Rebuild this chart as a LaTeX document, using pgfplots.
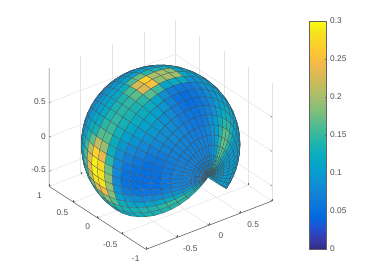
\documentclass[border=0pt]{standalone}
\usepackage{fontspec}
\setmainfont{Liberation Sans}
\usepackage{pgfplots}
\usepackage{pgfplotstable}
\pgfplotsset{compat=1.18}
\definecolor{axgray}{rgb}{0.38,0.38,0.38}
\definecolor{txtgray}{rgb}{0.3,0.3,0.3}
\pgfplotsset{colormap={parula}{rgb=(0.2081,0.1663,0.5292) rgb=(0.2081,0.2386,0.6771) rgb=(0.1253,0.3242,0.8303) rgb=(0.0060,0.4086,0.8828) rgb=(0.0498,0.4586,0.8641) rgb=(0.0779,0.5040,0.8384) rgb=(0.0641,0.5570,0.8240) rgb=(0.0265,0.6137,0.8135) rgb=(0.0228,0.6534,0.7768) rgb=(0.0590,0.6838,0.7254) rgb=(0.1453,0.7098,0.6646) rgb=(0.2586,0.7317,0.5954) rgb=(0.3953,0.7459,0.5244) rgb=(0.5300,0.7491,0.4661) rgb=(0.6473,0.7456,0.4188) rgb=(0.7525,0.7384,0.3768) rgb=(0.8507,0.7299,0.3360) rgb=(0.9450,0.7261,0.2886) rgb=(0.9990,0.7653,0.2164) rgb=(0.9789,0.8271,0.1633) rgb=(0.9589,0.8949,0.1132) rgb=(0.9763,0.9831,0.0538)}}
\pgfplotstableread{
x y z c
0 -1 0 .09
0 -1 0 .09
0 -1 0 .09
0 -1 0 .09
0 -1 0 .09
0 -1 0 .09
0 -1 0 .09
0 -1 0 .09
0 -1 0 .09
0 -1 0 .09
0 -1 0 .09
0 -1 0 .09
0 -1 0 .09
0 -1 0 .09
0 -1 0 .09
0 -1 0 .09
0 -1 0 .09
0 -1 0 .09
0 -1 0 .09
0 -1 0 .09
0 -1 0 .09
0 -1 0 .09
0 -1 0 .09
0 -1 0 .09
0 -1 0 .09
0 -1 0 .09
0 -1 0 .09
0 -1 0 .09
0 -1 0 .09
0 -1 0 .09
0 -1 0 .09
0 -1 0 .09
0 -1 0 .09
0 -1 0 .09
0 -1 0 .09
0 -1 0 .09
0 -1 0 .09
.037 -.999 -.037 .10
.041 -.999 -.032 .10
.045 -.999 -.026 .10
.048 -.999 -.020 .10
.050 -.999 -.013 .10
.052 -.999 -.007 .10
.052 -.999 0 .10
.052 -.999 .007 .10
.050 -.999 .013 .10
.048 -.999 .020 .10
.045 -.999 .026 .10
.041 -.999 .032 .11
.037 -.999 .037 .13
.032 -.999 .041 .12
.026 -.999 .045 .10
.020 -.999 .048 .09
.013 -.999 .050 .09
.007 -.999 .052 .08
0 -.999 .052 .08
-.007 -.999 .052 .08
-.013 -.999 .050 .08
-.020 -.999 .048 .08
-.026 -.999 .045 .08
-.032 -.999 .041 .08
-.037 -.999 .037 .08
-.041 -.999 .032 .08
-.045 -.999 .026 .08
-.048 -.999 .020 .08
-.050 -.999 .013 .08
-.052 -.999 .007 .08
-.052 -.999 0 .08
-.052 -.999 -.007 .08
-.050 -.999 -.013 .09
-.048 -.999 -.020 .09
-.045 -.999 -.026 .10
-.041 -.999 -.032 .11
-.037 -.999 -.037 .10
.074 -.995 -.074 .10
.083 -.995 -.064 .10
.091 -.995 -.053 .10
.097 -.995 -.040 .10
.101 -.995 -.027 .10
.104 -.995 -.014 .10
.105 -.995 0 .10
.104 -.995 .014 .10
.101 -.995 .027 .10
.097 -.995 .040 .10
.091 -.995 .053 .11
.083 -.995 .064 .13
.074 -.995 .074 .16
.064 -.995 .083 .15
.053 -.995 .091 .11
.040 -.995 .097 .09
.027 -.995 .101 .08
.014 -.995 .104 .08
0 -.995 .105 .08
-.014 -.995 .104 .08
-.027 -.995 .101 .08
-.040 -.995 .097 .08
-.053 -.995 .091 .08
-.064 -.995 .083 .08
-.074 -.995 .074 .08
-.083 -.995 .064 .08
-.091 -.995 .053 .08
-.097 -.995 .040 .08
-.101 -.995 .027 .08
-.104 -.995 .014 .08
-.105 -.995 0 .08
-.104 -.995 -.014 .08
-.101 -.995 -.027 .08
-.097 -.995 -.040 .09
-.091 -.995 -.053 .11
-.083 -.995 -.064 .12
-.074 -.995 -.074 .10
.110 -.988 -.110 .10
.124 -.988 -.095 .10
.135 -.988 -.078 .10
.144 -.988 -.060 .10
.151 -.988 -.040 .10
.155 -.988 -.020 .10
.156 -.988 0 .10
.155 -.988 .020 .10
.151 -.988 .040 .10
.144 -.988 .060 .10
.135 -.988 .078 .11
.124 -.988 .095 .13
.110 -.988 .110 .17
.095 -.988 .124 .15
.078 -.988 .135 .11
.060 -.988 .144 .09
.040 -.988 .151 .08
.020 -.988 .155 .07
0 -.988 .156 .07
-.020 -.988 .155 .07
-.040 -.988 .151 .07
-.060 -.988 .144 .07
-.078 -.988 .135 .07
-.095 -.988 .124 .07
-.110 -.988 .110 .07
-.124 -.988 .095 .07
-.135 -.988 .078 .07
-.144 -.988 .060 .07
-.151 -.988 .040 .07
-.155 -.988 .020 .07
-.156 -.988 0 .07
-.155 -.988 -.020 .07
-.151 -.988 -.040 .08
-.144 -.988 -.060 .09
-.135 -.988 -.078 .11
-.124 -.988 -.095 .13
-.110 -.988 -.110 .11
.147 -.978 -.147 .10
.165 -.978 -.127 .10
.180 -.978 -.104 .10
.192 -.978 -.080 .10
.201 -.978 -.054 .10
.206 -.978 -.027 .10
.208 -.978 0 .10
.206 -.978 .027 .10
.201 -.978 .054 .10
.192 -.978 .080 .10
.180 -.978 .104 .11
.165 -.978 .127 .13
.147 -.978 .147 .17
.127 -.978 .165 .15
.104 -.978 .180 .11
.080 -.978 .192 .09
.054 -.978 .201 .08
.027 -.978 .206 .07
0 -.978 .208 .07
-.027 -.978 .206 .07
-.054 -.978 .201 .07
-.080 -.978 .192 .07
-.104 -.978 .180 .07
-.127 -.978 .165 .07
-.147 -.978 .147 .07
-.165 -.978 .127 .07
-.180 -.978 .104 .07
-.192 -.978 .080 .07
-.201 -.978 .054 .07
-.206 -.978 .027 .07
-.208 -.978 0 .07
-.206 -.978 -.027 .07
-.201 -.978 -.054 .08
-.192 -.978 -.080 .09
-.180 -.978 -.104 .11
-.165 -.978 -.127 .13
-.147 -.978 -.147 .11
.183 -.966 -.183 .10
.205 -.966 -.158 .10
.224 -.966 -.130 .10
.239 -.966 -.099 .10
.250 -.966 -.067 .10
.257 -.966 -.034 .10
.259 -.966 0 .10
.257 -.966 .034 .10
.250 -.966 .067 .10
.239 -.966 .099 .10
.224 -.966 .130 .11
.205 -.966 .158 .14
.183 -.966 .183 .17
.158 -.966 .205 .16
.130 -.966 .224 .11
.099 -.966 .239 .09
.067 -.966 .250 .08
.034 -.966 .257 .07
0 -.966 .259 .07
-.034 -.966 .257 .07
-.067 -.966 .250 .07
-.099 -.966 .239 .07
-.130 -.966 .224 .07
-.158 -.966 .205 .07
-.183 -.966 .183 .07
-.205 -.966 .158 .07
-.224 -.966 .130 .07
-.239 -.966 .099 .07
-.250 -.966 .067 .07
-.257 -.966 .034 .07
-.259 -.966 0 .07
-.257 -.966 -.034 .07
-.250 -.966 -.067 .08
-.239 -.966 -.099 .09
-.224 -.966 -.130 .12
-.205 -.966 -.158 .14
-.183 -.966 -.183 .11
.271 -.924 -.271 .10
.304 -.924 -.233 .10
.332 -.924 -.192 .10
.354 -.924 -.147 .10
.370 -.924 -.099 .10
.380 -.924 -.050 .10
.383 -.924 0 .10
.380 -.924 .050 .10
.370 -.924 .099 .10
.354 -.924 .147 .10
.332 -.924 .192 .12
.304 -.924 .233 .15
.271 -.924 .271 .18
.233 -.924 .304 .16
.192 -.924 .332 .12
.147 -.924 .354 .09
.099 -.924 .370 .08
.050 -.924 .380 .07
0 -.924 .383 .07
-.050 -.924 .380 .07
-.099 -.924 .370 .07
-.147 -.924 .354 .07
-.192 -.924 .332 .07
-.233 -.924 .304 .07
-.271 -.924 .271 .07
-.304 -.924 .233 .07
-.332 -.924 .192 .07
-.354 -.924 .147 .07
-.370 -.924 .099 .07
-.380 -.924 .050 .07
-.383 -.924 0 .07
-.380 -.924 -.050 .07
-.370 -.924 -.099 .08
-.354 -.924 -.147 .10
-.332 -.924 -.192 .13
-.304 -.924 -.233 .16
-.271 -.924 -.271 .12
.354 -.866 -.354 .10
.397 -.866 -.305 .10
.433 -.866 -.25 .10
.462 -.866 -.192 .10
.483 -.866 -.130 .10
.496 -.866 -.066 .10
.5 -.866 0 .10
.496 -.866 .066 .10
.483 -.866 .130 .10
.462 -.866 .192 .10
.433 -.866 .25 .13
.397 -.866 .305 .16
.354 -.866 .354 .18
.305 -.866 .397 .16
.25 -.866 .433 .12
.192 -.866 .462 .09
.130 -.866 .483 .08
.066 -.866 .496 .07
0 -.866 .5 .07
-.066 -.866 .496 .07
-.130 -.866 .483 .07
-.192 -.866 .462 .07
-.25 -.866 .433 .07
-.305 -.866 .397 .07
-.354 -.866 .354 .07
-.397 -.866 .305 .07
-.433 -.866 .25 .07
-.462 -.866 .192 .07
-.483 -.866 .130 .07
-.496 -.866 .066 .07
-.5 -.866 0 .07
-.496 -.866 -.066 .07
-.483 -.866 -.130 .08
-.462 -.866 -.192 .10
-.433 -.866 -.25 .14
-.397 -.866 -.305 .17
-.354 -.866 -.354 .12
.431 -.793 -.431 .10
.483 -.793 -.371 .10
.527 -.793 -.305 .10
.563 -.793 -.233 .10
.588 -.793 -.158 .10
.604 -.793 -.080 .10
.609 -.793 0 .10
.604 -.793 .080 .10
.588 -.793 .158 .10
.563 -.793 .233 .10
.527 -.793 .305 .12
.483 -.793 .371 .15
.431 -.793 .431 .17
.371 -.793 .483 .15
.305 -.793 .527 .12
.233 -.793 .563 .09
.158 -.793 .588 .08
.080 -.793 .604 .06
0 -.793 .609 .06
-.080 -.793 .604 .06
-.158 -.793 .588 .07
-.233 -.793 .563 .07
-.305 -.793 .527 .08
-.371 -.793 .483 .08
-.431 -.793 .431 .07
-.483 -.793 .371 .07
-.527 -.793 .305 .06
-.563 -.793 .233 .06
-.588 -.793 .158 .05
-.604 -.793 .080 .05
-.609 -.793 0 .05
-.604 -.793 -.080 .05
-.588 -.793 -.158 .07
-.563 -.793 -.233 .09
-.527 -.793 -.305 .14
-.483 -.793 -.371 .16
-.431 -.793 -.431 .12
.5 -.707 -.5 .10
.561 -.707 -.431 .10
.612 -.707 -.354 .10
.653 -.707 -.271 .10
.683 -.707 -.183 .10
.701 -.707 -.093 .10
.707 -.707 0 .10
.701 -.707 .093 .10
.683 -.707 .183 .10
.653 -.707 .271 .10
.612 -.707 .354 .11
.561 -.707 .431 .13
.5 -.707 .5 .14
.431 -.707 .561 .12
.354 -.707 .612 .10
.271 -.707 .653 .08
.183 -.707 .683 .07
.093 -.707 .701 .06
0 -.707 .707 .06
-.093 -.707 .701 .06
-.183 -.707 .683 .07
-.271 -.707 .653 .08
-.354 -.707 .612 .08
-.431 -.707 .561 .08
-.5 -.707 .5 .08
-.561 -.707 .431 .07
-.612 -.707 .354 .06
-.653 -.707 .271 .05
-.683 -.707 .183 .05
-.701 -.707 .093 .05
-.707 -.707 0 .05
-.701 -.707 -.093 .05
-.683 -.707 -.183 .07
-.653 -.707 -.271 .09
-.612 -.707 -.354 .13
-.561 -.707 -.431 .15
-.5 -.707 -.5 .12
.561 -.609 -.561 .10
.629 -.609 -.483 .10
.687 -.609 -.397 .10
.733 -.609 -.304 .10
.766 -.609 -.205 .10
.786 -.609 -.104 .10
.793 -.609 0 .10
.786 -.609 .104 .10
.766 -.609 .205 .10
.733 -.609 .304 .10
.687 -.609 .397 .11
.629 -.609 .483 .12
.561 -.609 .561 .12
.483 -.609 .629 .11
.397 -.609 .687 .09
.304 -.609 .733 .07
.205 -.609 .766 .06
.104 -.609 .786 .05
0 -.609 .793 .05
-.104 -.609 .786 .06
-.205 -.609 .766 .07
-.304 -.609 .733 .08
-.397 -.609 .687 .09
-.483 -.609 .629 .09
-.561 -.609 .561 .09
-.629 -.609 .483 .08
-.687 -.609 .397 .07
-.733 -.609 .304 .06
-.766 -.609 .205 .05
-.786 -.609 .104 .05
-.793 -.609 0 .05
-.786 -.609 -.104 .05
-.766 -.609 -.205 .07
-.733 -.609 -.304 .09
-.687 -.609 -.397 .13
-.629 -.609 -.483 .15
-.561 -.609 -.561 .12
.612 -.5 -.612 .10
.687 -.5 -.527 .10
.750 -.5 -.433 .10
.800 -.5 -.332 .10
.837 -.5 -.224 .10
.858 -.5 -.113 .10
.866 -.5 0 .10
.858 -.5 .113 .10
.837 -.5 .224 .10
.800 -.5 .332 .10
.750 -.5 .433 .10
.687 -.5 .527 .11
.612 -.5 .612 .11
.527 -.5 .687 .10
.433 -.5 .750 .09
.332 -.5 .800 .07
.224 -.5 .837 .06
.113 -.5 .858 .05
0 -.5 .866 .05
-.113 -.5 .858 .06
-.224 -.5 .837 .08
-.332 -.5 .800 .09
-.433 -.5 .750 .10
-.527 -.5 .687 .10
-.612 -.5 .612 .10
-.687 -.5 .527 .09
-.750 -.5 .433 .08
-.800 -.5 .332 .07
-.837 -.5 .224 .06
-.858 -.5 .113 .05
-.866 -.5 0 .05
-.858 -.5 -.113 .05
-.837 -.5 -.224 .07
-.800 -.5 -.332 .10
-.750 -.5 -.433 .13
-.687 -.5 -.527 .14
-.612 -.5 -.612 .12
.653 -.383 -.653 .10
.733 -.383 -.563 .10
.800 -.383 -.462 .10
.854 -.383 -.354 .10
.893 -.383 -.239 .10
.916 -.383 -.121 .10
.924 -.383 0 .10
.916 -.383 .121 .10
.893 -.383 .239 .10
.854 -.383 .354 .10
.800 -.383 .462 .10
.733 -.383 .563 .10
.653 -.383 .653 .10
.563 -.383 .733 .10
.462 -.383 .800 .09
.354 -.383 .854 .07
.239 -.383 .893 .06
.121 -.383 .916 .05
0 -.383 .924 .05
-.121 -.383 .916 .06
-.239 -.383 .893 .09
-.354 -.383 .854 .11
-.462 -.383 .800 .12
-.563 -.383 .733 .12
-.653 -.383 .653 .11
-.733 -.383 .563 .10
-.800 -.383 .462 .09
-.854 -.383 .354 .08
-.893 -.383 .239 .07
-.916 -.383 .121 .06
-.924 -.383 0 .06
-.916 -.383 -.121 .06
-.893 -.383 -.239 .08
-.854 -.383 -.354 .10
-.800 -.383 -.462 .13
-.733 -.383 -.563 .13
-.653 -.383 -.653 .11
.683 -.259 -.683 .10
.766 -.259 -.588 .10
.837 -.259 -.483 .10
.893 -.259 -.370 .10
.933 -.259 -.250 .10
.957 -.259 -.127 .10
.966 -.259 0 .10
.957 -.259 .127 .10
.933 -.259 .250 .10
.893 -.259 .370 .10
.837 -.259 .483 .10
.766 -.259 .588 .10
.683 -.259 .683 .10
.588 -.259 .766 .10
.483 -.259 .837 .09
.370 -.259 .893 .08
.250 -.259 .933 .07
.127 -.259 .957 .07
0 -.259 .966 .07
-.127 -.259 .957 .08
-.250 -.259 .933 .11
-.370 -.259 .893 .13
-.483 -.259 .837 .13
-.588 -.259 .766 .13
-.683 -.259 .683 .13
-.766 -.259 .588 .12
-.837 -.259 .483 .11
-.893 -.259 .370 .10
-.933 -.259 .250 .10
-.957 -.259 .127 .10
-.966 -.259 0 .10
-.957 -.259 -.127 .10
-.933 -.259 -.250 .11
-.893 -.259 -.370 .13
-.837 -.259 -.483 .14
-.766 -.259 -.588 .13
-.683 -.259 -.683 .10
.701 -.131 -.701 .10
.786 -.131 -.604 .10
.858 -.131 -.496 .10
.916 -.131 -.380 .10
.957 -.131 -.257 .10
.982 -.131 -.130 .10
.991 -.131 0 .10
.982 -.131 .130 .10
.957 -.131 .257 .10
.916 -.131 .380 .10
.858 -.131 .496 .10
.786 -.131 .604 .10
.701 -.131 .701 .10
.604 -.131 .786 .10
.496 -.131 .858 .10
.380 -.131 .916 .09
.257 -.131 .957 .12
.130 -.131 .982 .22
0 -.131 .991 .12
-.130 -.131 .982 .18
-.257 -.131 .957 .24
-.380 -.131 .916 .18
-.496 -.131 .858 .14
-.604 -.131 .786 .14
-.701 -.131 .701 .14
-.786 -.131 .604 .14
-.858 -.131 .496 .14
-.916 -.131 .380 .14
-.957 -.131 .257 .16
-.982 -.131 .130 .22
-.991 -.131 0 .27
-.982 -.131 -.130 .28
-.957 -.131 -.257 .27
-.916 -.131 -.380 .22
-.858 -.131 -.496 .16
-.786 -.131 -.604 .12
-.701 -.131 -.701 .10
.707 0 -.707 .10
.793 0 -.609 .10
.866 0 -.5 .10
.924 0 -.383 .10
.966 0 -.259 .10
.991 0 -.131 .10
1 0 0 .10
.991 0 .131 .10
.966 0 .259 .10
.924 0 .383 .10
.866 0 .5 .10
.793 0 .609 .10
.707 0 .707 .10
.609 0 .793 .10
.5 0 .866 .10
.383 0 .924 .11
.259 0 .966 .14
.131 0 .991 .30
0 0 1 .16
-.131 0 .991 .30
-.259 0 .966 .30
-.383 0 .924 .19
-.5 0 .866 .16
-.609 0 .793 .15
-.707 0 .707 .15
-.793 0 .609 .16
-.866 0 .5 .17
-.924 0 .383 .20
-.966 0 .259 .27
-.991 0 .131 .30
-1 0 0 .30
-.991 0 -.131 .30
-.966 0 -.259 .29
-.924 0 -.383 .20
-.866 0 -.5 .15
-.793 0 -.609 .12
-.707 0 -.707 .10
.701 .131 -.701 .10
.786 .131 -.604 .10
.858 .131 -.496 .10
.916 .131 -.380 .10
.957 .131 -.257 .10
.982 .131 -.130 .10
.991 .131 0 .10
.982 .131 .130 .10
.957 .131 .257 .10
.916 .131 .380 .10
.858 .131 .496 .10
.786 .131 .604 .10
.701 .131 .701 .10
.604 .131 .786 .10
.496 .131 .858 .10
.380 .131 .916 .10
.257 .131 .957 .11
.130 .131 .982 .20
0 .131 .991 .14
-.130 .131 .982 .22
-.257 .131 .957 .26
-.380 .131 .916 .16
-.496 .131 .858 .12
-.604 .131 .786 .12
-.701 .131 .701 .12
-.786 .131 .604 .12
-.858 .131 .496 .13
-.916 .131 .380 .15
-.957 .131 .257 .24
-.982 .131 .130 .28
-.991 .131 0 .29
-.982 .131 -.130 .29
-.957 .131 -.257 .24
-.916 .131 -.380 .18
-.858 .131 -.496 .13
-.786 .131 -.604 .11
-.701 .131 -.701 .10
.683 .259 -.683 .10
.766 .259 -.588 .10
.837 .259 -.483 .10
.893 .259 -.370 .10
.933 .259 -.250 .10
.957 .259 -.127 .10
.966 .259 0 .10
.957 .259 .127 .10
.933 .259 .250 .10
.893 .259 .370 .10
.837 .259 .483 .10
.766 .259 .588 .10
.683 .259 .683 .10
.588 .259 .766 .10
.483 .259 .837 .10
.370 .259 .893 .10
.250 .259 .933 .10
.127 .259 .957 .10
0 .259 .966 .10
-.127 .259 .957 .11
-.250 .259 .933 .11
-.370 .259 .893 .11
-.483 .259 .837 .11
-.588 .259 .766 .11
-.683 .259 .683 .11
-.766 .259 .588 .11
-.837 .259 .483 .12
-.893 .259 .370 .13
-.933 .259 .250 .15
-.957 .259 .127 .17
-.966 .259 0 .18
-.957 .259 -.127 .17
-.933 .259 -.250 .15
-.893 .259 -.370 .13
-.837 .259 -.483 .12
-.766 .259 -.588 .10
-.683 .259 -.683 .10
.653 .383 -.653 .10
.733 .383 -.563 .10
.800 .383 -.462 .10
.854 .383 -.354 .10
.893 .383 -.239 .10
.916 .383 -.121 .10
.924 .383 0 .10
.916 .383 .121 .10
.893 .383 .239 .10
.854 .383 .354 .10
.800 .383 .462 .10
.733 .383 .563 .10
.653 .383 .653 .10
.563 .383 .733 .10
.462 .383 .800 .10
.354 .383 .854 .10
.239 .383 .893 .10
.121 .383 .916 .10
0 .383 .924 .10
-.121 .383 .916 .10
-.239 .383 .893 .10
-.354 .383 .854 .10
-.462 .383 .800 .10
-.563 .383 .733 .10
-.653 .383 .653 .10
-.733 .383 .563 .10
-.800 .383 .462 .11
-.854 .383 .354 .12
-.893 .383 .239 .13
-.916 .383 .121 .14
-.924 .383 0 .14
-.916 .383 -.121 .13
-.893 .383 -.239 .12
-.854 .383 -.354 .11
-.800 .383 -.462 .10
-.733 .383 -.563 .10
-.653 .383 -.653 .10
.612 .5 -.612 .09
.687 .5 -.527 .09
.750 .5 -.433 .09
.800 .5 -.332 .09
.837 .5 -.224 .09
.858 .5 -.113 .09
.866 .5 0 .09
.858 .5 .113 .09
.837 .5 .224 .09
.800 .5 .332 .09
.750 .5 .433 .09
.687 .5 .527 .09
.612 .5 .612 .09
.527 .5 .687 .09
.433 .5 .750 .09
.332 .5 .800 .09
.224 .5 .837 .09
.113 .5 .858 .09
0 .5 .866 .09
-.113 .5 .858 .09
-.224 .5 .837 .09
-.332 .5 .800 .09
-.433 .5 .750 .09
-.527 .5 .687 .09
-.612 .5 .612 .09
-.687 .5 .527 .09
-.750 .5 .433 .09
-.800 .5 .332 .09
-.837 .5 .224 .09
-.858 .5 .113 .09
-.866 .5 0 .09
-.858 .5 -.113 .09
-.837 .5 -.224 .09
-.800 .5 -.332 .09
-.750 .5 -.433 .09
-.687 .5 -.527 .09
-.612 .5 -.612 .09
.561 .609 -.561 .08
.629 .609 -.483 .08
.687 .609 -.397 .08
.733 .609 -.304 .08
.766 .609 -.205 .08
.786 .609 -.104 .08
.793 .609 0 .08
.786 .609 .104 .08
.766 .609 .205 .08
.733 .609 .304 .08
.687 .609 .397 .08
.629 .609 .483 .08
.561 .609 .561 .08
.483 .609 .629 .08
.397 .609 .687 .08
.304 .609 .733 .08
.205 .609 .766 .08
.104 .609 .786 .08
0 .609 .793 .08
-.104 .609 .786 .08
-.205 .609 .766 .08
-.304 .609 .733 .08
-.397 .609 .687 .08
-.483 .609 .629 .08
-.561 .609 .561 .08
-.629 .609 .483 .08
-.687 .609 .397 .08
-.733 .609 .304 .08
-.766 .609 .205 .08
-.786 .609 .104 .08
-.793 .609 0 .08
-.786 .609 -.104 .08
-.766 .609 -.205 .08
-.733 .609 -.304 .08
-.687 .609 -.397 .08
-.629 .609 -.483 .08
-.561 .609 -.561 .08
.5 .707 -.5 .08
.561 .707 -.431 .08
.612 .707 -.354 .08
.653 .707 -.271 .08
.683 .707 -.183 .08
.701 .707 -.093 .08
.707 .707 0 .08
.701 .707 .093 .08
.683 .707 .183 .08
.653 .707 .271 .08
.612 .707 .354 .08
.561 .707 .431 .08
.5 .707 .5 .08
.431 .707 .561 .08
.354 .707 .612 .08
.271 .707 .653 .08
.183 .707 .683 .08
.093 .707 .701 .08
0 .707 .707 .08
-.093 .707 .701 .08
-.183 .707 .683 .08
-.271 .707 .653 .08
-.354 .707 .612 .08
-.431 .707 .561 .08
-.5 .707 .5 .08
-.561 .707 .431 .08
-.612 .707 .354 .08
-.653 .707 .271 .08
-.683 .707 .183 .08
-.701 .707 .093 .08
-.707 .707 0 .08
-.701 .707 -.093 .08
-.683 .707 -.183 .08
-.653 .707 -.271 .08
-.612 .707 -.354 .08
-.561 .707 -.431 .08
-.5 .707 -.5 .08
.431 .793 -.431 .08
.483 .793 -.371 .08
.527 .793 -.305 .08
.563 .793 -.233 .08
.588 .793 -.158 .08
.604 .793 -.080 .08
.609 .793 0 .08
.604 .793 .080 .08
.588 .793 .158 .08
.563 .793 .233 .08
.527 .793 .305 .08
.483 .793 .371 .08
.431 .793 .431 .08
.371 .793 .483 .08
.305 .793 .527 .08
.233 .793 .563 .08
.158 .793 .588 .08
.080 .793 .604 .08
0 .793 .609 .08
-.080 .793 .604 .08
-.158 .793 .588 .08
-.233 .793 .563 .08
-.305 .793 .527 .08
-.371 .793 .483 .08
-.431 .793 .431 .08
-.483 .793 .371 .08
-.527 .793 .305 .08
-.563 .793 .233 .08
-.588 .793 .158 .08
-.604 .793 .080 .08
-.609 .793 0 .08
-.604 .793 -.080 .08
-.588 .793 -.158 .08
-.563 .793 -.233 .08
-.527 .793 -.305 .08
-.483 .793 -.371 .08
-.431 .793 -.431 .08
}\sphere
\begin{document}
\begin{tikzpicture}[font=\fontsize{8.3}{10}\selectfont]
\useasboundingbox (0,0) rectangle (374pt,280pt);
\begin{axis}[
  at={(160.65pt,135.8pt)},anchor=origin,
  x={(63.1pt,24.2pt)},y={(-48.4pt,31.5pt)},z={(0pt,68.7pt)},
  xmin=-1,xmax=1,ymin=-1,ymax=1,zmin=-.72,zmax=1,
  xtick={-.5,0,.5,1},xticklabels={-0.5,0,0.5,},
  ytick={-1,-.5,0,.5,1},yticklabels={-1,-0.5,0,0.5,1},
  ztick={-.5,0,.5},zticklabels={-0.5,0,0.5},
  grid=major,grid style={gray!22,line width=.5pt},
  3d box=background,
  axis line style={draw=none},
  xtick pos=left,ytick pos=left,ztick pos=left,
  tick align=inside,major tick length=2pt,tick style={axgray,line width=.4pt},
  ticklabel style={text=txtgray},
  xticklabel style={xshift=8pt,yshift=-3pt},
  yticklabel style={xshift=-5pt,yshift=-2pt},
  clip=false,
  point meta min=0,point meta max=.3,
]
\addplot3[axgray,line width=.55pt,no marks] coordinates {(-1,1,1) (-1,1,-.72) (-1,-1,-.72) (1,-1,-.72)};
\addplot3[surf,shader=faceted,faceted color=black!70,line width=.2pt,z buffer=sort,mesh/cols=37,mesh/ordering=x varies,point meta=explicit]
  table[x=x,y=y,z=z,meta=c] {\sphere};
\end{axis}
\begin{axis}[
  at={(309pt,31pt)},anchor=south west,scale only axis,width=17.7pt,height=228pt,
  xmin=0,xmax=1,ymin=0,ymax=.3,view={0}{90},
  xtick=\empty,ytick={0,.05,.1,.15,.2,.25,.3},yticklabels={0,0.05,0.1,0.15,0.2,0.25,0.3},
  ytick pos=right,tick align=inside,major tick length=2pt,
  axis line style={axgray,line width=.5pt},tick style={axgray,line width=.4pt},
  ticklabel style={text=txtgray},
  point meta min=0,point meta max=.3,axis on top,
]
\addplot3[surf,shader=interp,mesh/cols=2,mesh/ordering=x varies,point meta=explicit] table[x=x,y=y,z=c,meta=c] {
x y c
0 0 0
1 0 0
0 .3 .3
1 .3 .3
};
\end{axis}
\end{tikzpicture}
\end{document}
